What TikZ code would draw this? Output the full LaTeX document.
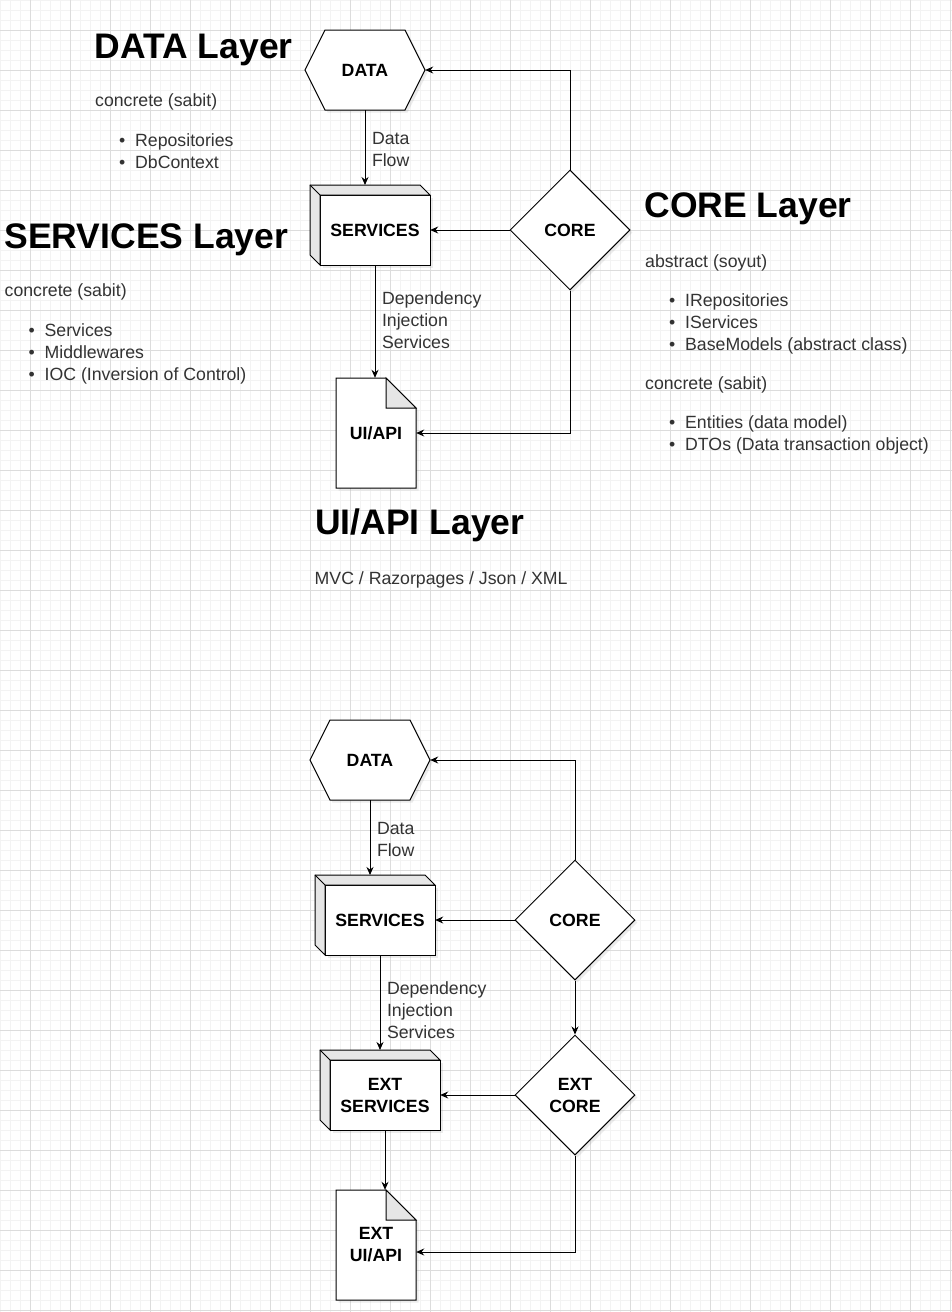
\documentclass[tikz,border=0pt]{standalone}
\usepackage{fontspec}
\setmainfont{Liberation Sans}
\usetikzlibrary{shapes.geometric,arrows.meta,shadows}

\definecolor{facegray}{HTML}{E6E6E6}
\definecolor{minorgray}{HTML}{F3F3F3}
\definecolor{majorgray}{HTML}{DCDCDC}
\definecolor{labelgray}{HTML}{333333}

\newcommand{\itembullet}{\llap{\textbullet\hspace{10pt}}}

% hexagon: name, centre, text
\newcommand{\hexnode}[3]{%
\begin{scope}[shift={(#2)}]
\draw[outline] (-60,0) -- (-40,-40) -- (40,-40) -- (60,0) -- (40,40) -- (-40,40) -- cycle;
\node[shapetext,minimum width=120,minimum height=80] (#1) at (0,0) {#3};
\end{scope}}

% box with depth: name, centre of front face, text
\newcommand{\cubenode}[3]{%
\begin{scope}[shift={(#2)}]
\draw[outline] (-55,-35) rectangle (55,35);
\draw[draw=black,line width=1pt,fill=facegray] (-65,-45) -- (45,-45) -- (55,-35) -- (-55,-35) -- (-55,35) -- (-65,25) -- cycle;
\draw[line width=1pt] (-65,-45) -- (-55,-35);
\node[shapetext,minimum width=110,minimum height=70] (#1) at (0,0) {#3};
\coordinate (#1-top) at (0,-45);
\end{scope}}

% page with folded corner: name, centre, text
\newcommand{\docnode}[3]{%
\begin{scope}[shift={(#2)}]
\draw[outline] (-40,-55) -- (10,-55) -- (40,-25) -- (40,55) -- (-40,55) -- cycle;
\draw[draw=black,line width=1pt,fill=facegray] (10,-55) -- (10,-25) -- (40,-25) -- cycle;
\node[shapetext,minimum width=80,minimum height=110] (#1) at (0,0) {#3};
\end{scope}}

\begin{document}
\begin{tikzpicture}[x=1pt,y=-1pt,
  minorgrid/.style={draw=minorgray,line width=0.8pt},
  majorgrid/.style={draw=majorgray,line width=1pt},
  outline/.style={draw=black,line width=1pt,fill=white,drop shadow={opacity=0.15,shadow xshift=2.5pt,shadow yshift=-2.5pt}},
  shapetext/.style={font=\fontsize{17.7}{22}\selectfont\bfseries,align=center,inner sep=0pt},
  flow/.style={draw=black,line width=1pt,-{Stealth[length=8pt,width=7pt]}},
  elbl/.style={font=\fontsize{17.7}{22}\selectfont,text=labelgray,align=left,inner sep=0pt,pos=0,anchor=west,xshift=6.5pt},
  layertitle/.style={font=\fontsize{35.5}{40}\selectfont\bfseries,anchor=base west,inner sep=0pt},
  layertext/.style={font=\fontsize{17.7}{22}\selectfont,text=labelgray,anchor=base west,inner sep=0pt}]

\useasboundingbox (0,0) rectangle (952,1312);
\fill[white] (0,0) rectangle (952,1312);

% grid
\foreach \gx in {0,10,...,950} \draw[minorgrid] (\gx,0) -- (\gx,1312);
\foreach \gy in {0,10,...,1310} \draw[minorgrid] (0,\gy) -- (952,\gy);
\foreach \gx in {30,70,...,950} \draw[majorgrid] (\gx,0) -- (\gx,1312);
\foreach \gy in {30,70,...,1310} \draw[majorgrid] (0,\gy) -- (952,\gy);

% layer notes
\node[layertitle] (datatitle) at (94.5,58.3) {DATA Layer};
\node[layertext] (datakind) at (95,106) {concrete (sabit)};
\node[layertext] (datarepo) at (135,146.7) {\itembullet Repositories};
\node[layertext] (datactx) at (135,168.3) {\itembullet DbContext};

\node[layertitle] (svctitle) at (4.4,248.3) {SERVICES Layer};
\node[layertext] (svckind) at (4.5,296) {concrete (sabit)};
\node[layertext] (svcsvc) at (44.5,336) {\itembullet Services};
\node[layertext] (svcmid) at (44.5,358) {\itembullet Middlewares};
\node[layertext] (svcioc) at (44.5,380) {\itembullet IOC (Inversion of Control)};

\node[layertitle] (coretitle) at (644.3,217.3) {CORE Layer};
\node[layertext] (coreabs) at (645,267.3) {abstract (soyut)};
\node[layertext] (corerepo) at (685,306.7) {\itembullet IRepositories};
\node[layertext] (coresvc) at (685,328.7) {\itembullet IServices};
\node[layertext] (corebase) at (685,350.7) {\itembullet BaseModels (abstract class)};
\node[layertext] (corekind) at (645,389.3) {concrete (sabit)};
\node[layertext] (coreent) at (685,428.3) {\itembullet Entities (data model)};
\node[layertext] (coredto) at (685,450.3) {\itembullet DTOs (Data transaction object)};

\node[layertitle] (uititle) at (315,534) {UI/API Layer};
\node[layertext] (uikind) at (314.5,584) {MVC / Razorpages / Json / XML};

% first diagram
\begin{scope}
\hexnode{data}{365,70}{DATA}
\cubenode{svc}{375,230}{SERVICES}
\node[diamond,outline,shapetext,minimum width=120,minimum height=120] (core) at (570,230) {CORE};
\docnode{ui}{376,433}{UI/API}

\draw[flow] (data.south) -- node[elbl,yshift=-39.5pt] {Data\\Flow} (data.south |- svc-top);
\draw[flow] (core.west) -- (svc.east);
\draw[flow] (core.north) |- (data.east);
\draw[flow] (svc.south) -- node[elbl,yshift=-55pt] {Dependency\\Injection\\Services} (svc.south |- ui.north);
\draw[flow] (core.south) |- (ui.east);
\end{scope}

% second diagram
\begin{scope}[shift={(5,690)}]
\hexnode{data}{365,70}{DATA}
\cubenode{svc}{375,230}{SERVICES}
\node[diamond,outline,shapetext,minimum width=120,minimum height=120] (core) at (570,230) {CORE};
\cubenode{extsvc}{380,405}{EXT\\SERVICES}
\node[diamond,outline,shapetext,minimum width=120,minimum height=120] (extcore) at (570,405) {EXT\\CORE};
\docnode{extui}{371,555}{EXT\\UI/API}

\draw[flow] (data.south) -- node[elbl,yshift=-39.5pt] {Data\\Flow} (data.south |- svc-top);
\draw[flow] (core.west) -- (svc.east);
\draw[flow] (core.north) |- (data.east);
\draw[flow] (svc.south) -- node[elbl,yshift=-55pt] {Dependency\\Injection\\Services} (svc.south |- extsvc-top);
\draw[flow] (core.south) -- (extcore.north);
\draw[flow] (extcore.west) -- (extsvc.east);
\draw[flow] (extsvc.south) -- (extsvc.south |- extui.north);
\draw[flow] (extcore.south) |- ([yshift=-7pt]extui.east);
\end{scope}
\end{tikzpicture}
\end{document}
